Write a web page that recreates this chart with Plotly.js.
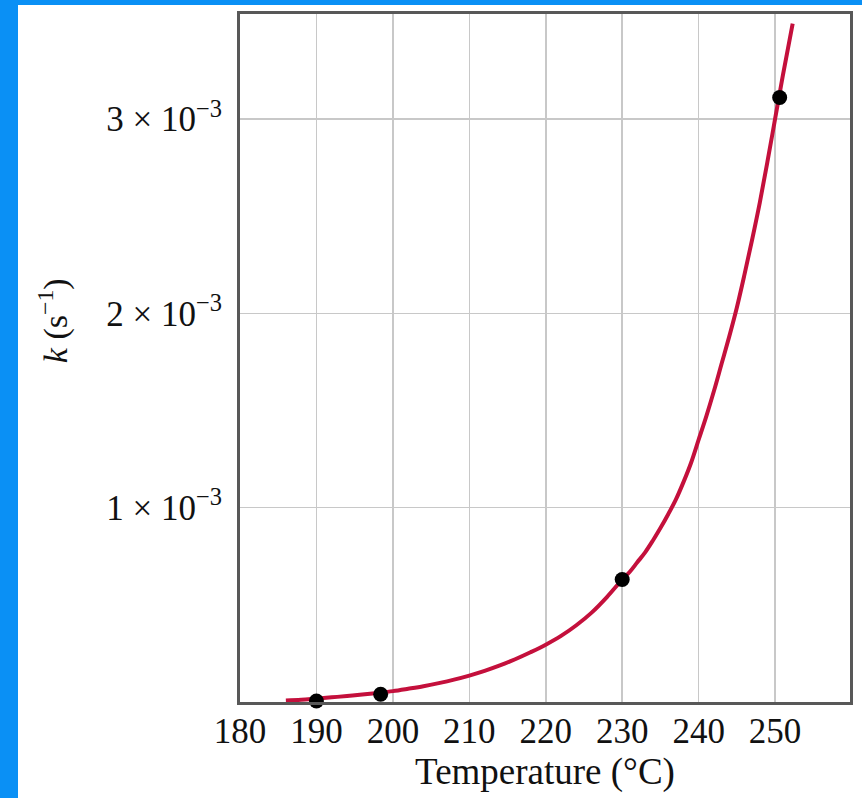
<!DOCTYPE html>
<html>
<head>
<meta charset="utf-8">
<script src="https://cdn.plot.ly/plotly-3.0.1.min.js"></script>
<style>
  html, body { margin: 0; padding: 0; background: #0a90f5; width: 862px; height: 798px; overflow: hidden; }
  #chart { position: absolute; left: 18px; top: 5px; width: 844px; height: 793px; background: #fff; }
</style>
</head>
<body>
<div id="chart"></div>
<script>
// Fitted curve
const curveT = [186, 188, 190, 192, 194, 196, 198, 200, 202, 204, 206, 208, 210, 212, 214, 216, 218, 220, 222, 224, 226, 228, 230, 231, 232, 233, 234, 235, 236, 237, 238, 239, 240, 241, 242, 243, 244, 245, 246, 247, 248, 249, 250, 251, 252.3];
const curveK = [0.008e-3, 0.012e-3, 0.018e-3, 0.024e-3, 0.031e-3, 0.039e-3, 0.047e-3, 0.056e-3, 0.068e-3, 0.081e-3, 0.097e-3, 0.115e-3, 0.136e-3, 0.16e-3, 0.188e-3, 0.22e-3, 0.256e-3, 0.295e-3, 0.34e-3, 0.395e-3, 0.46e-3, 0.54e-3, 0.63e-3, 0.67e-3, 0.72e-3, 0.77e-3, 0.83e-3, 0.895e-3, 0.965e-3, 1.04e-3, 1.13e-3, 1.23e-3, 1.35e-3, 1.47e-3, 1.6e-3, 1.74e-3, 1.88e-3, 2.03e-3, 2.2e-3, 2.38e-3, 2.57e-3, 2.78e-3, 3.0e-3, 3.22e-3, 3.49e-3];
// Measured points
const pointT = [190.0, 198.4, 230.0, 250.6];
const pointK = [0.005e-3, 0.04e-3, 0.63e-3, 3.11e-3];
// Ticks
const xTicks = [180, 190, 200, 210, 220, 230, 240, 250];
const yTickVals = [1e-3, 2e-3, 3e-3];
const yTickText = ['1 × 10<sup>−3</sup>', '2 × 10<sup>−3</sup>', '3 × 10<sup>−3</sup>'];

const serif = '"Liberation Serif", "DejaVu Serif", serif';

const traces = [
  { x: curveT, y: curveK, mode: 'lines', line: { color: '#c4103c', width: 4, shape: 'spline', smoothing: 1 }, hoverinfo: 'skip' },
  { x: pointT, y: pointK, mode: 'markers', marker: { color: '#000', size: 15 }, cliponaxis: false }
];

const layout = {
  width: 844, height: 793,
  margin: { l: 222, r: 12, t: 9, b: 96 },
  paper_bgcolor: '#fff', plot_bgcolor: '#fff',
  showlegend: false,
  font: { family: serif, color: '#111', size: 34 },
  xaxis: {
    range: [180, 259.8],
    tickvals: xTicks,
    ticktext: xTicks.map(String),
    ticks: '',
    ticklabelstandoff: -4,
    showgrid: true, gridcolor: '#c8c8c8', gridwidth: 1.5,
    zeroline: false,
    showline: true, mirror: true, linecolor: '#585858', linewidth: 3,
    tickfont: { family: serif, size: 35, color: '#111' },
    title: { text: 'Temperature (°C)', font: { family: serif, size: 37, color: '#111' }, standoff: 2 }
  },
  yaxis: {
    range: [0, 3.54e-3],
    tickvals: yTickVals,
    ticktext: yTickText,
    ticks: '',
    ticklabelstandoff: 8,
    showgrid: true, gridcolor: '#c8c8c8', gridwidth: 1.5,
    zeroline: false,
    showline: true, mirror: true, linecolor: '#585858', linewidth: 3,
    tickfont: { family: serif, size: 35, color: '#111' }
  },
  annotations: [{
    xref: 'paper', yref: 'paper', x: -0.3066, y: 0.555,
    text: '<i>k</i> (s<sup>−1</sup>)', textangle: -90, showarrow: false,
    font: { family: serif, size: 34, color: '#111' }, xanchor: 'center', yanchor: 'middle'
  }]
};

Plotly.newPlot('chart', traces, layout, { displayModeBar: false, staticPlot: true });
</script>
</body>
</html>
